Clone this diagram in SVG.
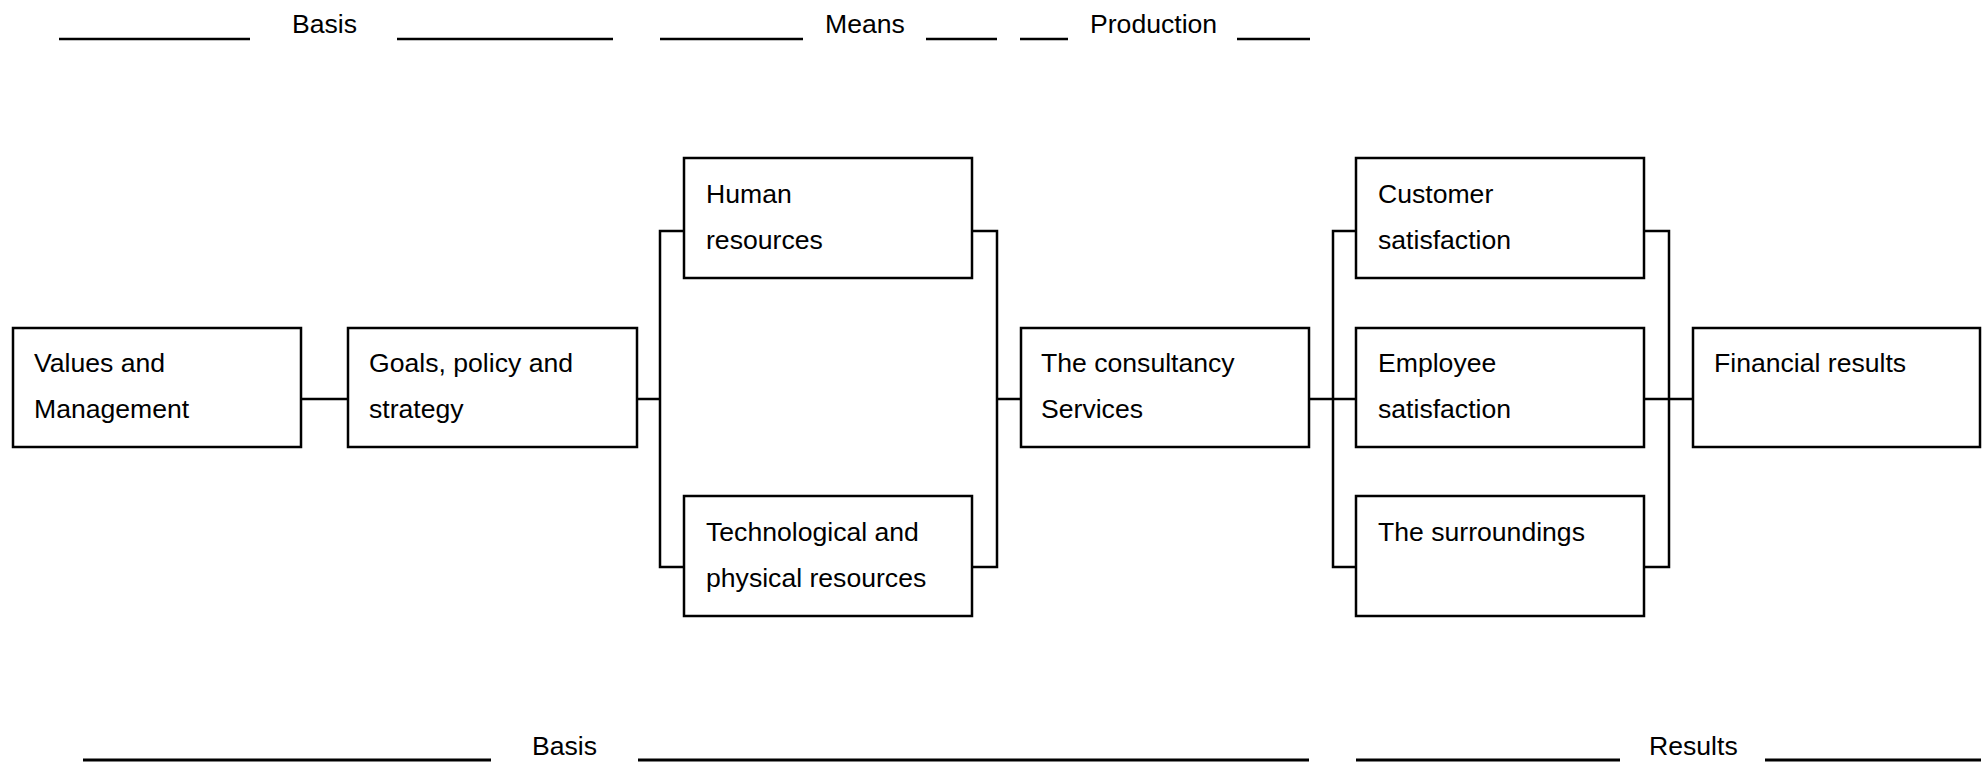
<svg xmlns="http://www.w3.org/2000/svg" width="1982" height="762" viewBox="0 0 1982 762">
  <style>
    .box { fill: #ffffff; stroke: #000000; stroke-width: 2.5; }
    .lbl { font-family: "Liberation Sans", Arial, sans-serif; font-size: 26.6px; fill: #000000; }
    .wire { fill: none; stroke: #000000; stroke-width: 2.5; }
    .rule { stroke: #000000; stroke-width: 2.5; }
    .rule-b { stroke: #000000; stroke-width: 3; }
  </style>
  <rect width="1982" height="762" fill="#ffffff"/>

  <!-- Heading rules with section titles -->
  <g id="header">
    <line class="rule" x1="59" y1="39" x2="250" y2="39"/>
    <text class="lbl" x="292" y="33">Basis</text>
    <line class="rule" x1="397" y1="39" x2="613" y2="39"/>
    <line class="rule" x1="660" y1="39" x2="803" y2="39"/>
    <text class="lbl" x="825" y="33">Means</text>
    <line class="rule" x1="926" y1="39" x2="997" y2="39"/>
    <line class="rule" x1="1020" y1="39" x2="1068" y2="39"/>
    <text class="lbl" x="1090" y="33">Production</text>
    <line class="rule" x1="1237" y1="39" x2="1310" y2="39"/>
  </g>

  <!-- Connectors -->
  <g id="connectors">
    <path class="wire" d="M301 399 H348"/>
    <path class="wire" d="M637 399 H660 M684 231 H660 V567 H684"/>
    <path class="wire" d="M972 231 H997 V567 H972 M997 399 H1021"/>
    <path class="wire" d="M1309 399 H1356 M1356 231 H1333 V567 H1356"/>
    <path class="wire" d="M1644 231 H1669 V567 H1644 M1644 399 H1693"/>
  </g>

  <g id="values">
    <rect class="box" x="13" y="328" width="288" height="119"/>
    <text class="lbl" x="34" y="372">Values and</text>
    <text class="lbl" x="34" y="418">Management</text>
  </g>
  <g id="goals">
    <rect class="box" x="348" y="328" width="289" height="119"/>
    <text class="lbl" x="369" y="372">Goals, policy and</text>
    <text class="lbl" x="369" y="418">strategy</text>
  </g>
  <g id="human">
    <rect class="box" x="684" y="158" width="288" height="120"/>
    <text class="lbl" x="706" y="203">Human</text>
    <text class="lbl" x="706" y="249">resources</text>
  </g>
  <g id="technological">
    <rect class="box" x="684" y="496" width="288" height="120"/>
    <text class="lbl" x="706" y="541">Technological and</text>
    <text class="lbl" x="706" y="587">physical resources</text>
  </g>
  <g id="consultancy">
    <rect class="box" x="1021" y="328" width="288" height="119"/>
    <text class="lbl" x="1041" y="372">The consultancy</text>
    <text class="lbl" x="1041" y="418">Services</text>
  </g>
  <g id="customer">
    <rect class="box" x="1356" y="158" width="288" height="120"/>
    <text class="lbl" x="1378" y="203">Customer</text>
    <text class="lbl" x="1378" y="249">satisfaction</text>
  </g>
  <g id="employee">
    <rect class="box" x="1356" y="328" width="288" height="119"/>
    <text class="lbl" x="1378" y="372">Employee</text>
    <text class="lbl" x="1378" y="418">satisfaction</text>
  </g>
  <g id="surroundings">
    <rect class="box" x="1356" y="496" width="288" height="120"/>
    <text class="lbl" x="1378" y="541">The surroundings</text>
  </g>
  <g id="financial">
    <rect class="box" x="1693" y="328" width="287" height="119"/>
    <text class="lbl" x="1714" y="372">Financial results</text>
  </g>

  <!-- Footer rules with section titles -->
  <g id="footer">
    <line class="rule-b" x1="83" y1="760" x2="491" y2="760"/>
    <text class="lbl" x="532" y="755">Basis</text>
    <line class="rule-b" x1="638" y1="760" x2="1309" y2="760"/>
    <line class="rule-b" x1="1356" y1="760" x2="1620" y2="760"/>
    <text class="lbl" x="1649" y="755">Results</text>
    <line class="rule-b" x1="1765" y1="760" x2="1981" y2="760"/>
  </g>
</svg>
